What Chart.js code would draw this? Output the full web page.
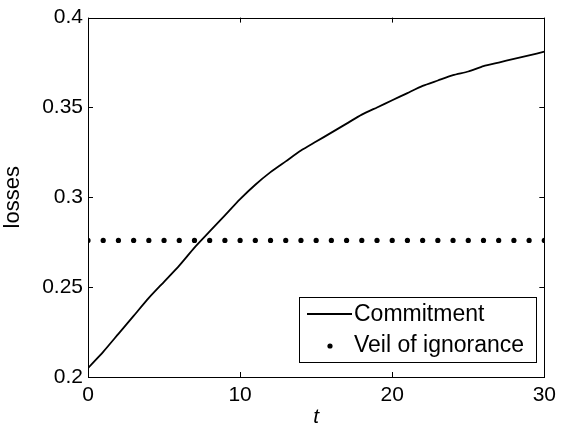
<!DOCTYPE html>
<html>
<head>
<meta charset="utf-8">
<script src="https://cdn.jsdelivr.net/npm/chart.js@4"></script>
<style>
  html, body { margin: 0; padding: 0; background: #fff; }
  #wrap { width: 562px; height: 430px; }
</style>
</head>
<body>
<div id="wrap"><canvas id="myChart" width="562" height="430"></canvas></div>
<script>
// data
const tValues = [0, 1, 2, 3, 4, 5, 6, 7, 8, 9, 10, 11, 12, 13, 14, 15,
  16, 17, 18, 19, 20, 21, 22, 23, 24, 25, 26, 27, 28, 29, 30];
const commitment = [0.205, 0.214, 0.224, 0.234, 0.244, 0.253, 0.262, 0.272,
  0.281, 0.290, 0.299, 0.307, 0.314, 0.320, 0.326, 0.331, 0.336, 0.341,
  0.346, 0.350, 0.354, 0.358, 0.362, 0.365, 0.368, 0.370, 0.373, 0.375,
  0.377, 0.379, 0.381];
const veil = [0.276, 0.276, 0.276, 0.276, 0.276, 0.276, 0.276, 0.276,
  0.276, 0.276, 0.276, 0.276, 0.276, 0.276, 0.276, 0.276, 0.276, 0.276,
  0.276, 0.276, 0.276, 0.276, 0.276, 0.276, 0.276, 0.276, 0.276, 0.276,
  0.276, 0.276, 0.276];
const seriesNames = ["Commitment", "Veil of ignorance"];
const xTicks = [0, 10, 20, 30];
const yTicks = [0.2, 0.25, 0.3, 0.35, 0.4];

const FONT = "Liberation Sans, Arial, sans-serif";

function pts(ys) {
  return tValues.map(function (t, i) { return { x: t, y: ys[i] }; });
}

// box round the plot, inward ticks, and the legend
const matlabBox = {
  id: "matlabBox",
  afterDraw: function (chart) {
    const ctx = chart.ctx;
    const a = chart.chartArea;
    const xs = chart.scales.x;
    const ys = chart.scales.y;
    ctx.save();
    ctx.strokeStyle = "#000";
    ctx.lineWidth = 1;
    ctx.strokeRect(Math.round(a.left) + 0.5, Math.round(a.top) + 0.5,
      Math.round(a.right - a.left), Math.round(a.bottom - a.top));

    const len = 5;
    ctx.beginPath();
    xTicks.forEach(function (v) {
      const px = Math.round(xs.getPixelForValue(v)) + 0.5;
      ctx.moveTo(px, a.bottom); ctx.lineTo(px, a.bottom - len);
      ctx.moveTo(px, a.top); ctx.lineTo(px, a.top + len);
    });
    yTicks.forEach(function (v) {
      const py = Math.round(ys.getPixelForValue(v)) + 0.5;
      ctx.moveTo(a.left, py); ctx.lineTo(a.left + len, py);
      ctx.moveTo(a.right, py); ctx.lineTo(a.right - len, py);
    });
    ctx.stroke();

    // legend
    const lx = 299, ly = 297, lw = 237, lh = 65;
    ctx.fillStyle = "#fff";
    ctx.fillRect(lx, ly, lw, lh);
    ctx.strokeRect(lx + 0.5, ly + 0.5, lw, lh);

    ctx.lineWidth = 1.8;
    ctx.beginPath();
    ctx.moveTo(307, 314); ctx.lineTo(352, 314);
    ctx.stroke();

    ctx.fillStyle = "#000";
    ctx.beginPath();
    ctx.arc(330, 346, 2.6, 0, Math.PI * 2);
    ctx.fill();

    ctx.font = "23px " + FONT;
    ctx.textBaseline = "middle";
    ctx.textAlign = "left";
    ctx.fillText(seriesNames[0], 354, 315);
    ctx.fillText(seriesNames[1], 354, 346);
    ctx.restore();
  }
};

const ctx = document.getElementById("myChart").getContext("2d");

const myChart = new Chart(ctx, {
  type: "scatter",
  data: {
    datasets: [{
      label: seriesNames[0],
      data: pts(commitment),
      showLine: true,
      borderColor: "#000",
      borderWidth: 1.8,
      pointRadius: 0,
      tension: 0.2
    }, {
      label: seriesNames[1],
      data: pts(veil),
      showLine: false,
      pointRadius: 2.6,
      pointBackgroundColor: "#000",
      pointBorderWidth: 0
    }]
  },
  plugins: [matlabBox],
  options: {
    responsive: false,
    animation: false,
    layout: { padding: { top: 16, right: 14, left: 0, bottom: 0 } },
    plugins: {
      legend: { display: false },
      tooltip: { enabled: false }
    },
    scales: {
      x: {
        type: "linear",
        min: 0,
        max: 30,
        afterFit: function (s) { s.height = 53; },
        afterBuildTicks: function (s) { s.ticks = xTicks.map(function (v) { return { value: v }; }); },
        grid: { display: false, drawTicks: false },
        border: { display: false },
        ticks: { color: "#000", font: { family: FONT, size: 21 }, padding: 6, maxRotation: 0 },
        title: {
          display: true, text: "t", color: "#000", padding: { top: 0, bottom: 0 },
          font: { family: FONT, size: 21, style: "italic" }
        }
      },
      y: {
        min: 0.2,
        max: 0.4,
        afterFit: function (s) { s.width = 88; },
        afterBuildTicks: function (s) { s.ticks = yTicks.map(function (v) { return { value: v }; }); },
        grid: { display: false, drawTicks: false },
        border: { display: false },
        ticks: {
          color: "#000", font: { family: FONT, size: 21 }, padding: 5,
          callback: function (v) { return String(+v.toFixed(2)); }
        },
        title: {
          display: true, text: "losses", color: "#000", padding: { top: 0, bottom: 2 },
          font: { family: FONT, size: 22 }
        }
      }
    }
  }
});
</script>
</body>
</html>
